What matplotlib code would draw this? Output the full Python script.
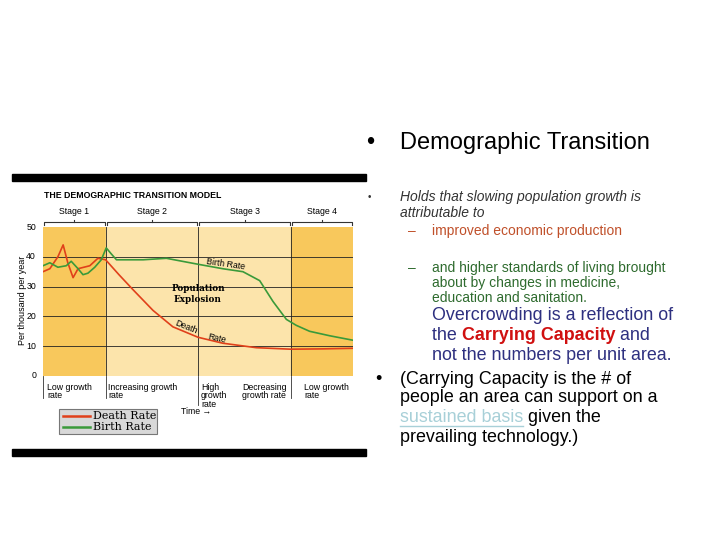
import numpy as np
import matplotlib.pyplot as plt
from matplotlib.patches import Rectangle

# chart data (time 0..100, per thousand per year)
death_t = [0, 2.2, 4.8, 6.5, 8.0, 9.7, 11.3, 15.1, 17.7, 20.2, 24.5, 29, 35.5, 41.9, 50, 58, 68.8, 79.9, 90, 100]
death_v = [35, 36, 40, 44, 38, 33, 36, 37, 39.5, 39, 34, 29, 22, 16.5, 13, 11, 9.5, 9, 9.1, 9.3]
birth_t = [0, 2.2, 4.8, 7.5, 9.1, 11.3, 12.9, 14.5, 16.7, 18.8, 20.4, 22, 23.7, 32.3, 39.8, 50, 58, 64.5, 69.9, 74.2, 78.5, 81.7, 86, 92.5, 100]
birth_v = [37, 38, 36.5, 37, 38.5, 36, 34, 34.5, 36.5, 39, 43, 41, 39, 39, 39.5, 37.5, 36, 35, 32, 25, 19, 17, 15, 13.5, 12]
stage_edges = [0, 20.3, 50, 80, 100]
stage_names = ["Stage 1", "Stage 2", "Stage 3", "Stage 4"]
yticks = [0, 10, 20, 30, 40, 50]

fig = plt.figure(figsize=(7.2, 5.4), dpi=100)
bg = fig.add_axes([0, 0, 1, 1])
bg.set_xlim(0, 720); bg.set_ylim(540, 0); bg.axis('off')

# frame bars
bg.add_patch(Rectangle((12, 174), 354, 7, color='black'))
bg.add_patch(Rectangle((12, 449), 354, 7, color='black'))

sans = 'Liberation Sans'
bg.text(44, 195, "THE DEMOGRAPHIC TRANSITION MODEL", fontsize=6.3, weight='bold', family=sans, va='center')
px = lambda t: 43 + t / 100 * 310
for i, name in enumerate(stage_names):
    a, b = px(stage_edges[i]), px(stage_edges[i + 1])
    bg.text((a + b) / 2, 212, name, fontsize=6.3, family=sans, ha='center', va='center')
    bg.plot([a + 1, a + 1, b - 1, b - 1], [225, 222, 222, 225], color='#333', lw=0.8)
    bg.plot([(a + b) / 2] * 2, [222, 219.5], color='#333', lw=0.8)
for t in stage_edges[:-1]:
    bg.plot([px(t)] * 2, [376, 398 if t != 50 else 405], color='#333', lw=0.6)
for y in yticks:
    bg.text(36, 376 - y * 149 / 50, str(y), fontsize=6.3, family=sans, ha='right', va='center')
bg.text(23, 300, "Per thousand per year", fontsize=6.5, family=sans, rotation=90, ha='center', va='center')
for x, s in [(47, "Low growth\nrate"), (108, "Increasing growth\nrate"), (201, "High\ngrowth\nrate"),
             (242, "Decreasing\ngrowth rate"), (304, "Low growth\nrate")]:
    bg.text(x, 383, s, fontsize=6.3, family=sans, va='top', linespacing=0.9)
bg.text(181, 412, "Time \u2192", fontsize=6.3, family=sans, va='center')
bg.add_patch(Rectangle((59, 409), 98, 25, facecolor='#d8d8d8', edgecolor='#777', lw=0.8))
bg.plot([63, 90], [416, 416], color='#e0401a', lw=1.8)
bg.plot([63, 90], [427, 427], color='#3a9a3a', lw=1.8)
bg.text(93, 416, "Death Rate", fontsize=8, family='DejaVu Serif', va='center')
bg.text(93, 427, "Birth Rate", fontsize=8, family='DejaVu Serif', va='center')

# chart axes
ax = fig.add_axes([43 / 720, (540 - 376) / 540, 310 / 720, 149 / 540])
ax.set_xlim(0, 100); ax.set_ylim(0, 50)
dark, light = '#f8c85c', '#fce4ab'
for i in range(4):
    ax.axvspan(stage_edges[i], stage_edges[i + 1], color=dark if i in (0, 3) else light, zorder=0)
for y in [10, 20, 30, 40]:
    ax.axhline(y, color='#222', lw=0.6, zorder=1)
for t in stage_edges[1:-1]:
    ax.axvline(t, color='#222', lw=0.6, zorder=1)
ax.plot(death_t, death_v, color='#e0401a', lw=1.2, zorder=3)
ax.plot(birth_t, birth_v, color='#3a9a3a', lw=1.2, zorder=3)
ax.text(59, 37.5, "Birth Rate", fontsize=6.3, family=sans, rotation=-8, ha='center', va='center')
ax.text(50, 27.5, "Population\nExplosion", fontsize=6.3, family='DejaVu Serif', weight='bold', ha='center', va='center')
ax.text(46, 16.5, "Death", fontsize=6.3, family=sans, rotation=-22, ha='center', va='center')
ax.text(56, 12.5, "Rate", fontsize=6.3, family=sans, rotation=-12, ha='center', va='center')
ax.set_xticks([]); ax.set_yticks([])
for s in ax.spines.values():
    s.set_visible(False)

# slide text
bg.text(366, 143, "\u2022", fontsize=17, family=sans, va='center')
bg.text(400, 143, "Demographic Transition", fontsize=17, family=sans, va='center')
bg.text(368, 197, "\u2022", fontsize=7, family=sans, va='center', color='#333')
bg.text(400, 205, "Holds that slowing population growth is\nattributable to", fontsize=10,
        family=sans, style='italic', color='#333', va='center', linespacing=1.1)
bg.text(408, 231, "\u2013", fontsize=10, family=sans, color='#c0502a', va='center')
bg.text(432, 231, "improved economic production", fontsize=10, family=sans, color='#c0502a', va='center')
bg.text(408, 268, "\u2013", fontsize=10, family=sans, color='#2e6b2e', va='center')
bg.text(432, 283, "and higher standards of living brought\nabout by changes in medicine,\neducation and sanitation.",
        fontsize=10, family=sans, color='#2e6b2e', va='center', linespacing=1.1)

navy = '#2e3080'
big = 12.9
bg.text(432, 316, "Overcrowding is a reflection of", fontsize=big, family=sans, color=navy, va='center')
r = fig.canvas.get_renderer()
t1 = bg.text(432, 336, "the ", fontsize=big, family=sans, color=navy, va='center')
w1 = t1.get_window_extent(r).width
t2 = bg.text(432 + w1, 336, "Carrying Capacity", fontsize=big, family=sans, weight='bold', color='#d01010', va='center')
w2 = t2.get_window_extent(r).width
bg.text(432 + w1 + w2, 336, " and", fontsize=big, family=sans, color=navy, va='center')
bg.text(432, 356, "not the numbers per unit area.", fontsize=big, family=sans, color=navy, va='center')

bg.text(375, 379, "\u2022", fontsize=big, family=sans, va='center')
bg.text(400, 379, "(Carrying Capacity is the # of", fontsize=big, family=sans, va='center')
bg.text(400, 398, "people an area can support on a", fontsize=big, family=sans, va='center')
t3 = bg.text(400, 418, "sustained basis", fontsize=big, family=sans, color='#a8d0d8', va='center')
w3 = t3.get_window_extent(r).width
bg.plot([400, 400 + w3], [426, 426], color='#a8d0d8', lw=1)
bg.text(400 + w3, 418, " given the", fontsize=big, family=sans, va='center')
bg.text(400, 437, "prevailing technology.)", fontsize=big, family=sans, va='center')

fig.savefig("out.png", dpi=100)
